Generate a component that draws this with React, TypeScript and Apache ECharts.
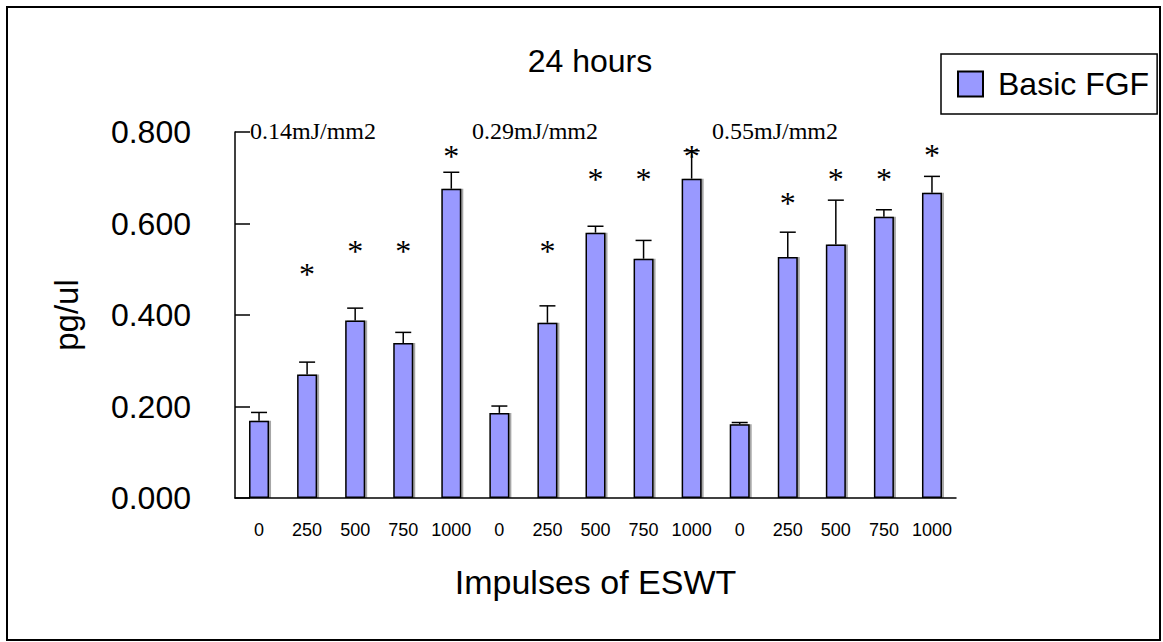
import React, { useEffect, useRef } from "react";
import * as echarts from "echarts";

const categories = ["0", "250", "500", "750", "1000", "0", "250", "500", "750", "1000", "0", "250", "500", "750", "1000"];
const means = [0.169, 0.270, 0.388, 0.339, 0.676, 0.186, 0.383, 0.580, 0.523, 0.698, 0.161, 0.527, 0.554, 0.615, 0.667];
const errorTops = [0.187, 0.297, 0.415, 0.362, 0.712, 0.201, 0.420, 0.594, 0.563, 0.759, 0.165, 0.581, 0.651, 0.630, 0.703];
const starLevels: (number | null)[] = [null, 0.500, 0.551, 0.551, 0.758, null, 0.551, 0.708, 0.708, 0.759, null, 0.655, 0.708, 0.708, 0.761];
const yTicks = [0, 0.2, 0.4, 0.6, 0.8];
const doseLabels = ["0.14mJ/mm2", "0.29mJ/mm2", "0.55mJ/mm2"];

const SANS = "'Liberation Sans', Arial, sans-serif";
const SERIF = "'Liberation Serif', 'Times New Roman', serif";

export default function App() {
  const ref = useRef<HTMLDivElement>(null);
  useEffect(() => {
    if (!ref.current) return;
    const chart = echarts.init(ref.current, null, { renderer: "svg" });
    const errData = categories.map((_, i) => [i, means[i], errorTops[i]]);
    const starData = starLevels
      .map((v, i) => (v == null ? null : [i, v]))
      .filter((d) => d !== null) as number[][];
    const dosePos = [250, 472, 712];
    chart.setOption({
      animation: false,
      backgroundColor: "#fff",
      title: {
        text: "24 hours",
        left: 585,
        textAlign: "center",
        top: 40,
        textStyle: { fontFamily: SANS, fontSize: 32, fontWeight: "normal", color: "#000" },
      },
      legend: {
        data: ["Basic FGF"],
        left: 941,
        top: 54,
        icon: "rect",
        itemWidth: 25,
        itemHeight: 25,
        padding: [14, 8, 14, 16],
        borderColor: "#000",
        borderWidth: 1.5,
        textStyle: { fontFamily: SANS, fontSize: 32, color: "#000", padding: [0, 0, 0, 10] },
      },
      grid: { left: 235, right: 207, top: 132, bottom: 144 },
      xAxis: {
        type: "category",
        data: categories,
        name: "Impulses of ESWT",
        nameLocation: "middle",
        nameGap: 67,
        nameTextStyle: { fontFamily: SANS, fontSize: 34, color: "#000" },
        axisLine: { lineStyle: { color: "#000", width: 1.5 } },
        axisTick: {
          inside: true,
          length: 6,
          interval: (i: number) => i > 0 && i % 2 === 0,
          lineStyle: { color: "#000", width: 1.5 },
        },
        axisLabel: { interval: 0, fontFamily: SANS, fontSize: 18, color: "#000", margin: 23 },
      },
      yAxis: {
        type: "value",
        min: yTicks[0],
        max: yTicks[yTicks.length - 1],
        interval: 0.2,
        name: "pg/ul",
        nameLocation: "middle",
        nameRotate: 90,
        nameGap: 152,
        nameTextStyle: { fontFamily: SANS, fontSize: 33, color: "#000" },
        axisLine: { show: true, lineStyle: { color: "#000", width: 1.5 } },
        axisTick: { show: true, inside: true, length: 15, lineStyle: { color: "#000", width: 1.5 } },
        axisLabel: {
          formatter: (v: number) => v.toFixed(3),
          fontFamily: SANS,
          fontSize: 32,
          color: "#000",
          margin: 44,
        },
        splitLine: { show: false },
      },
      graphic: [
        {
          type: "rect",
          z: -10,
          shape: { x: 7, y: 7, width: 1153, height: 633 },
          style: { fill: "none", stroke: "#000", lineWidth: 2 },
        },
        ...doseLabels.map((t, i) => ({
          type: "text",
          x: dosePos[i],
          y: 131,
          style: { text: t, fontFamily: SERIF, fontSize: 24, fill: "#000", align: "left", verticalAlign: "middle" },
        })),
      ],
      series: [
        {
          name: "Basic FGF",
          type: "bar",
          data: means,
          barWidth: 20,
          itemStyle: {
            color: "#9999FF",
            borderColor: "#000",
            borderWidth: 1.5,
            shadowColor: "rgba(0,0,0,0.35)",
            shadowOffsetX: 2,
            shadowOffsetY: 0,
            shadowBlur: 0,
          },
        },
        {
          type: "custom",
          name: "err",
          data: errData,
          encode: { x: 0, y: [1, 2] },
          z: 3,
          renderItem: (_p: any, api: any) => {
            const b = api.coord([api.value(0), api.value(1)]);
            const t = api.coord([api.value(0), api.value(2)]);
            const st = { stroke: "#000", lineWidth: 1.5 };
            return {
              type: "group",
              children: [
                { type: "line", shape: { x1: b[0], y1: b[1], x2: b[0], y2: t[1] }, style: st },
                { type: "line", shape: { x1: b[0] - 8, y1: t[1], x2: b[0] + 8, y2: t[1] }, style: st },
              ],
            };
          },
        },
        {
          type: "custom",
          name: "stars",
          data: starData,
          encode: { x: 0, y: 1 },
          z: 4,
          renderItem: (_p: any, api: any) => {
            const p = api.coord([api.value(0), api.value(1)]);
            return {
              type: "text",
              x: p[0],
              y: p[1] + 5,
              style: {
                text: "*",
                fontFamily: SERIF,
                fontSize: 32,
                fill: "#000",
                align: "center",
                verticalAlign: "middle",
              },
            };
          },
        },
      ],
    });
    return () => chart.dispose();
  }, []);
  return <div ref={ref} style={{ position: "fixed", left: 0, top: 0, width: 1163, height: 642 }} />;
}
